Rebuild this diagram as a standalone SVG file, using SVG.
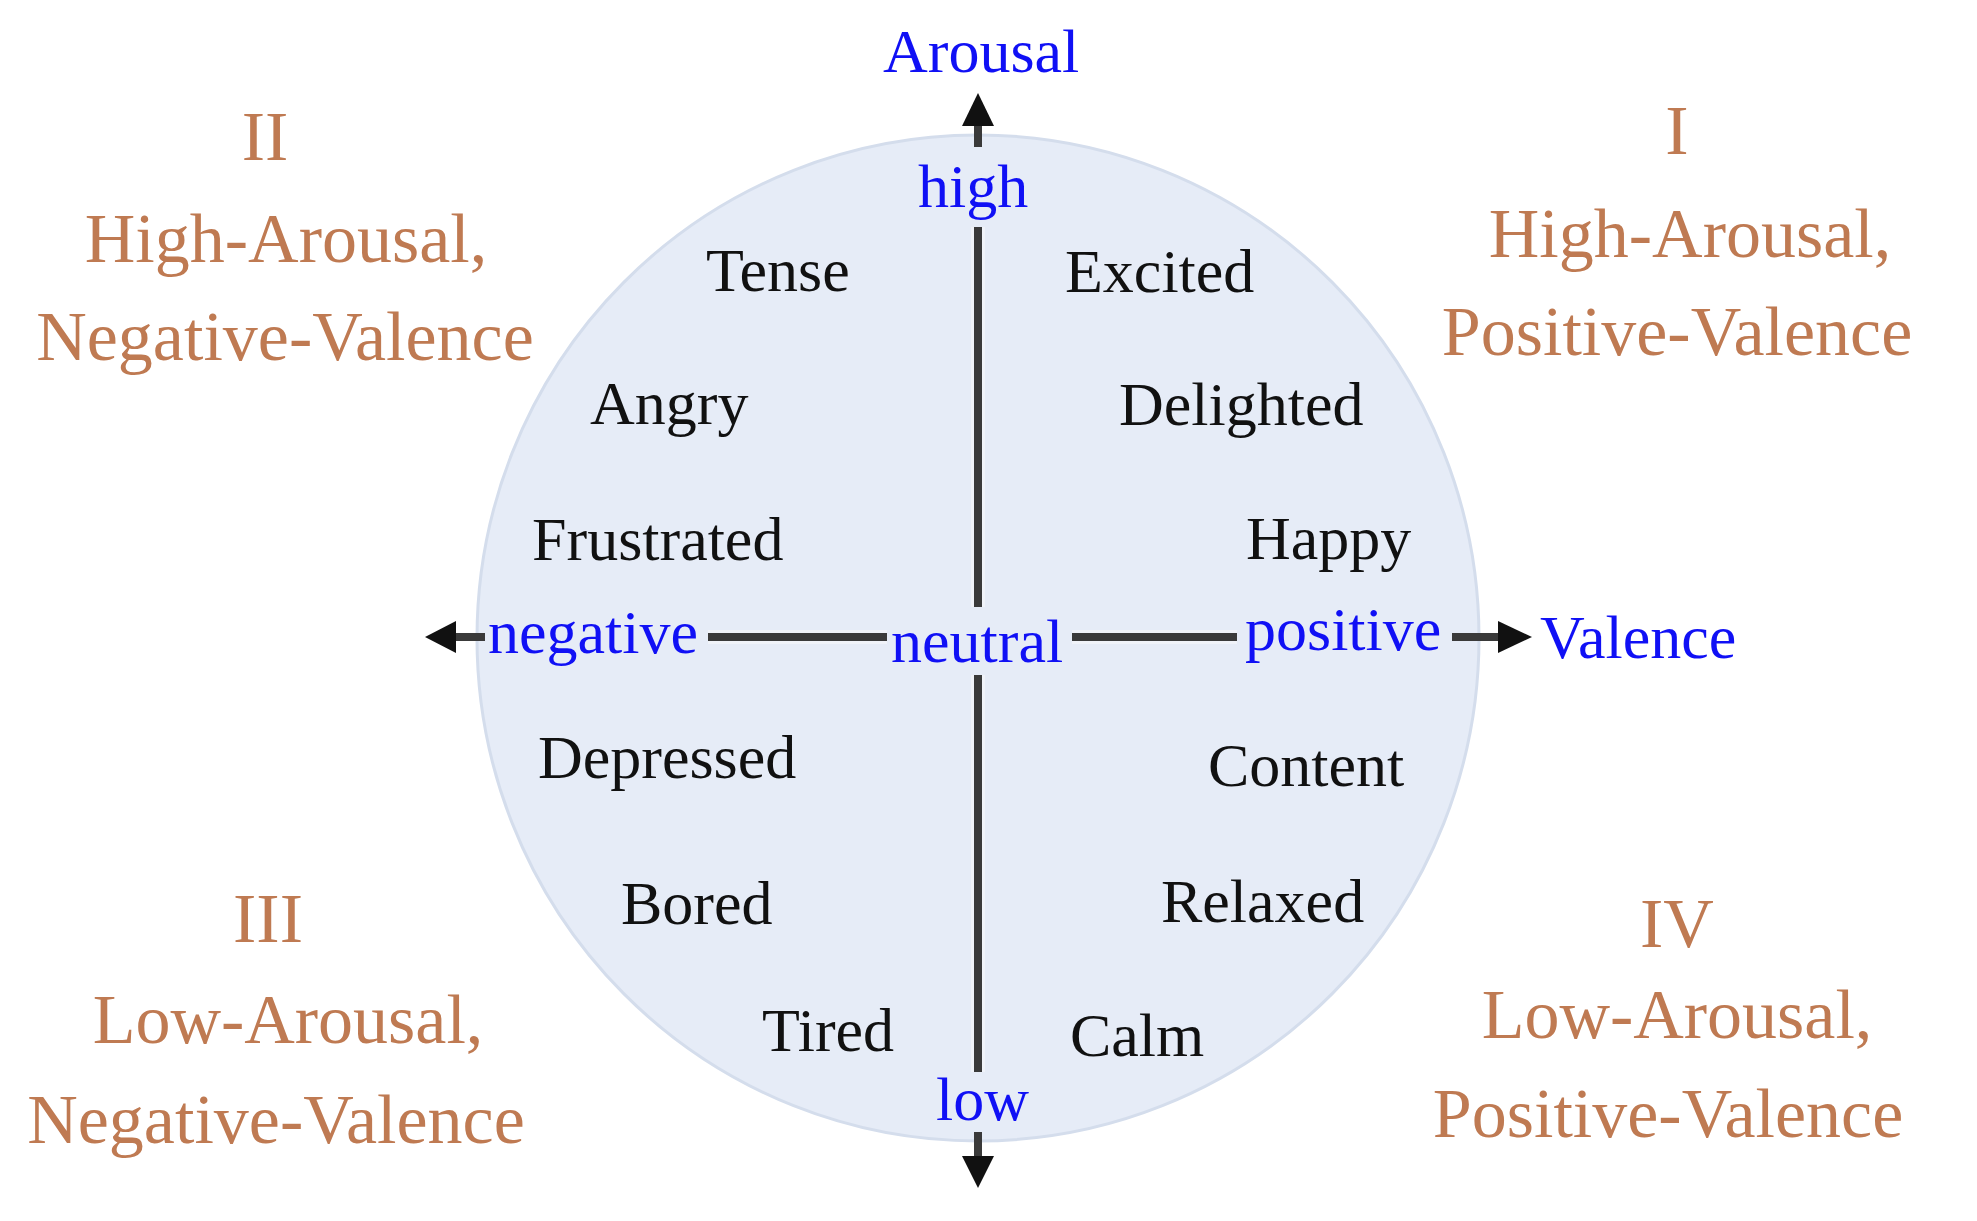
<svg xmlns="http://www.w3.org/2000/svg" width="1977" height="1221" viewBox="0 0 1977 1221">
  <style>
    text { font-family: "Liberation Serif", "Times New Roman", serif; }
    .emo { font-size: 62px; fill: #111111; }
    .axis { font-size: 62px; fill: #1010F5; }
    .quad { font-size: 70px; fill: #BF7A52; text-anchor: middle; }
    .halo { stroke: #F4F6FA; stroke-width: 14; stroke-opacity: 0.7; fill: none; stroke-linecap: butt; }
    .core { stroke: #3A3A3A; stroke-width: 8; fill: none; stroke-linecap: butt; }
    .head { fill: #111111; }
  </style>
  <rect width="1977" height="1221" fill="#FFFFFF"/>

  <g id="circle">
    <ellipse cx="978" cy="638" rx="501" ry="503" fill="#E6ECF7" stroke="#D4DDEC" stroke-width="3"/>
  </g>

  <g id="connectors">
    <line class="halo" x1="978" y1="227" x2="978" y2="607"/>
    <line class="halo" x1="978" y1="675" x2="978" y2="1072"/>
    <line class="halo" x1="708" y1="637" x2="887" y2="637"/>
    <line class="halo" x1="1072" y1="637" x2="1237" y2="637"/>
    <line class="core" x1="978" y1="227" x2="978" y2="607"/>
    <line class="core" x1="978" y1="675" x2="978" y2="1072"/>
    <line class="core" x1="708" y1="637" x2="887" y2="637"/>
    <line class="core" x1="1072" y1="637" x2="1237" y2="637"/>
    <line class="core" x1="978" y1="122" x2="978" y2="147"/>
    <line class="core" x1="978" y1="1132" x2="978" y2="1160"/>
    <line class="core" x1="452" y1="637" x2="485" y2="637"/>
    <line class="core" x1="1452" y1="637" x2="1500" y2="637"/>
    <polygon class="head" points="978,93 994,126 962,126"/>
    <polygon class="head" points="978,1188 994,1156 962,1156"/>
    <polygon class="head" points="425,637 456,621 456,653"/>
    <polygon class="head" points="1532,637 1498,621 1498,653"/>
  </g>

  <g id="axis-labels">
    <g id="label-arousal"><text class="axis" x="883" y="72">Arousal</text></g>
    <g id="label-high"><text class="axis" x="918" y="207">high</text></g>
    <g id="label-low"><text class="axis" x="936" y="1120">low</text></g>
    <g id="label-negative"><text class="axis" x="488" y="653">negative</text></g>
    <g id="label-neutral"><text class="axis" x="891" y="662">neutral</text></g>
    <g id="label-positive"><text class="axis" x="1245" y="650">positive</text></g>
    <g id="label-valence"><text class="axis" x="1540" y="658">Valence</text></g>
  </g>

  <g id="emotions">
    <g id="tense"><text class="emo" x="706" y="291">Tense</text></g>
    <g id="excited"><text class="emo" x="1065" y="292">Excited</text></g>
    <g id="angry"><text class="emo" x="590" y="424">Angry</text></g>
    <g id="delighted"><text class="emo" x="1119" y="425">Delighted</text></g>
    <g id="frustrated"><text class="emo" x="532" y="560">Frustrated</text></g>
    <g id="happy"><text class="emo" x="1246" y="559">Happy</text></g>
    <g id="depressed"><text class="emo" x="538" y="778">Depressed</text></g>
    <g id="content"><text class="emo" x="1208" y="786">Content</text></g>
    <g id="bored"><text class="emo" x="621" y="924">Bored</text></g>
    <g id="relaxed"><text class="emo" x="1161" y="922">Relaxed</text></g>
    <g id="tired"><text class="emo" x="762" y="1051">Tired</text></g>
    <g id="calm"><text class="emo" x="1070" y="1056">Calm</text></g>
  </g>

  <g id="quadrant-II">
    <text class="quad" x="265" y="160">II</text>
    <text class="quad" x="286" y="262">High-Arousal,</text>
    <text class="quad" x="285" y="360">Negative-Valence</text>
  </g>
  <g id="quadrant-I">
    <text class="quad" x="1677" y="154">I</text>
    <text class="quad" x="1690" y="257">High-Arousal,</text>
    <text class="quad" x="1677" y="355">Positive-Valence</text>
  </g>
  <g id="quadrant-III">
    <text class="quad" x="268" y="942">III</text>
    <text class="quad" x="288" y="1043">Low-Arousal,</text>
    <text class="quad" x="276" y="1143">Negative-Valence</text>
  </g>
  <g id="quadrant-IV">
    <text class="quad" x="1677" y="947">IV</text>
    <text class="quad" x="1677" y="1038">Low-Arousal,</text>
    <text class="quad" x="1668" y="1137">Positive-Valence</text>
  </g>
</svg>
